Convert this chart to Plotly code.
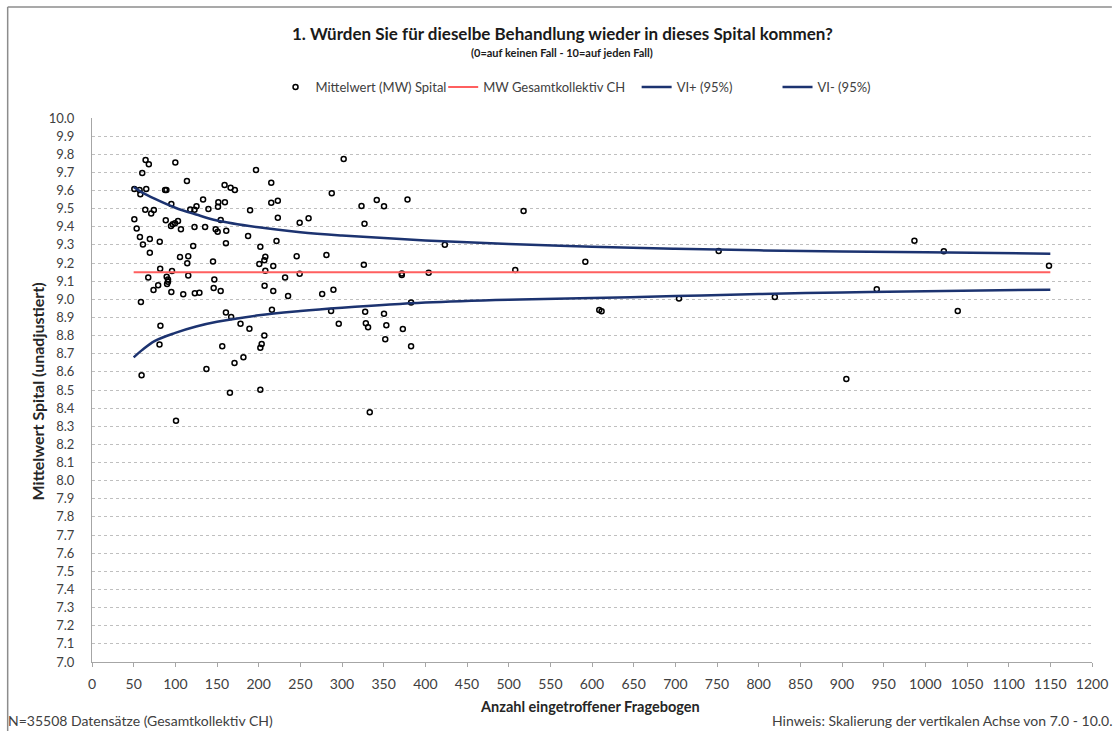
import plotly.graph_objects as go

# ---- data ----
spital_n = [64.3, 68.2, 60.3, 100, 196.8, 113.9, 50.8, 57.1, 65.1, 58, 87.7, 89.3, 159.1, 166.3, 171.4,
            95.2, 133.3, 151.6, 151.2, 159.5, 125.4, 117.9, 123, 139.7, 63.9, 74.2, 71, 189.7, 50.8, 88.5,
            103.2, 99.6, 94.8, 96.8, 154.4, 53.6, 106.7, 123, 135.7, 148.4, 150.8, 161.1, 187.3, 57.5, 69.4,
            81.3, 61.1, 121.4, 160.7, 202, 69.4, 105.6, 115.5, 114.3, 145.2, 208, 206.8, 200.8, 81.8, 96,
            208, 67.5, 89.6, 91.2, 90.1, 91.2, 115.5, 146.8, 79.4, 73.8, 95.2, 109.5, 123.4, 128.9, 146,
            154.4, 207.1, 58.7,
            160.7, 167, 178.2, 188.9, 82.1, 81, 156.3, 206.8, 203.6, 202, 171, 181.7, 59.5, 137.3, 165.5,
            202, 100.8,
            302, 215.1, 287.7, 215.1, 223, 341.7, 350.4, 323.4, 378.6, 223, 249.2, 259.9, 327, 221.4, 423.4,
            245.6, 281.3, 217.5, 326.2, 249.2, 371.8, 371.8, 404, 231.7, 217.5, 235.3, 276.2, 289.7, 382.9,
            215.9, 286.9, 327.8, 350.4, 296.1, 328.6, 331.3, 353.2, 373, 351.9, 382.9, 333.3,
            517.9, 507.9, 592, 608.7, 611.5, 752, 704.4, 819.4, 905.2, 986.9, 1022.2, 1148.4, 941.7, 1038.9]
spital_mw = [9.768, 9.745, 9.697, 9.754, 9.713, 9.652, 9.608, 9.603, 9.608, 9.58, 9.603, 9.603, 9.63, 9.616, 9.603,
             9.526, 9.551, 9.535, 9.511, 9.535, 9.513, 9.496, 9.494, 9.498, 9.494, 9.493, 9.474, 9.491, 9.441, 9.436,
             9.432, 9.419, 9.404, 9.414, 9.437, 9.39, 9.386, 9.399, 9.399, 9.386, 9.373, 9.378, 9.349, 9.344, 9.333,
             9.318, 9.303, 9.294, 9.309, 9.29, 9.257, 9.233, 9.237, 9.199, 9.208, 9.235, 9.215, 9.195, 9.169, 9.156,
             9.158, 9.121, 9.125, 9.11, 9.084, 9.097, 9.132, 9.11, 9.077, 9.051, 9.04, 9.028, 9.033, 9.036, 9.062,
             9.046, 9.075, 8.985,
             8.928, 8.902, 8.865, 8.838, 8.854, 8.751, 8.741, 8.8, 8.753, 8.733, 8.649, 8.68, 8.581, 8.616, 8.485,
             8.501, 8.33,
             9.774, 9.643, 9.585, 9.533, 9.544, 9.548, 9.513, 9.515, 9.551, 9.45, 9.423, 9.447, 9.417, 9.322, 9.301,
             9.237, 9.244, 9.184, 9.191, 9.141, 9.143, 9.134, 9.147, 9.12, 9.046, 9.018, 9.029, 9.053, 8.983,
             8.943, 8.935, 8.932, 8.921, 8.865, 8.868, 8.846, 8.857, 8.836, 8.78, 8.741, 8.377,
             9.487, 9.162, 9.207, 8.941, 8.934, 9.266, 9.005, 9.013, 8.56, 9.323, 9.265, 9.185, 9.055, 8.935]

mean_n = [50, 1150]
mean_mw = [9.15, 9.15]

vi_n = [50, 60, 75, 100, 125, 150, 200, 250, 300, 400, 500, 600, 700, 800, 900, 1000, 1150]
vi_plus = [9.62, 9.59, 9.555, 9.505, 9.468, 9.435, 9.397, 9.37, 9.352, 9.325, 9.305, 9.29, 9.279, 9.27,
           9.264, 9.259, 9.252]
vi_minus = [8.68, 8.72, 8.77, 8.815, 8.85, 8.876, 8.912, 8.935, 8.953, 8.982, 8.998, 9.007, 9.018, 9.029,
            9.038, 9.045, 9.053]

x_ticks = list(range(0, 1201, 50))

FONT = "Lato"
NARROW = "Liberation Sans Narrow, Arial Narrow, Lato"
W, H = 1120, 731
L, R, T, B = 92, 1100, 118, 662


def px(x):
    return (x - L) / (R - L)


def py(y):
    return (B - y) / (B - T)


fig = go.Figure()
fig.add_trace(go.Scatter(
    x=spital_n, y=spital_mw, mode="markers", name="Mittelwert (MW) Spital", legend="legend",
    marker=dict(symbol="circle-open", size=5, color="black", line=dict(width=1.5, color="black")),
))
fig.add_trace(go.Scatter(
    x=mean_n, y=mean_mw, mode="lines", name="MW Gesamtkollektiv CH", legend="legend2",
    line=dict(color="#ff5f5f", width=2),
))
fig.add_trace(go.Scatter(
    x=vi_n, y=vi_plus, mode="lines", name="VI+ (95%)", line_shape="spline", legend="legend3",
    line=dict(color="#1c3370", width=2.5),
))
fig.add_trace(go.Scatter(
    x=vi_n, y=vi_minus, mode="lines", name="VI- (95%)", line_shape="spline", legend="legend4",
    line=dict(color="#1c3370", width=2.5),
))


def leg(text_start):
    return dict(orientation="h", x=px(text_start - 42), xanchor="left", y=py(87), yanchor="middle",
                font=dict(size=13, color="#404040"), itemwidth=30, bgcolor="rgba(0,0,0,0)")


fig.update_layout(
    width=W, height=H,
    margin=dict(l=L, r=W - R, t=T, b=H - B),
    paper_bgcolor="white", plot_bgcolor="white",
    font=dict(family=FONT, size=12, color="#404040"),
    showlegend=True,
    legend=leg(319), legend2=leg(488), legend3=leg(683), legend4=leg(825),
)
fig.update_xaxes(
    range=[0, 1200], tickvals=x_ticks, ticktext=[str(v) for v in x_ticks],
    showgrid=False, showline=True, linecolor="#a6a6a6", linewidth=1,
    ticks="outside", ticklen=4, tickcolor="#a6a6a6", tickfont=dict(family=NARROW, size=14, color="#404040"),
    zeroline=False, ticklabelstandoff=5,
)
fig.update_yaxes(
    range=[7.0, 10.0], dtick=0.1, tick0=7.0, tickformat=".1f",
    showgrid=True, gridcolor="#bfbfbf", griddash="dot", gridwidth=1,
    showline=True, linecolor="#a6a6a6", linewidth=1, zeroline=False,
    ticks="", tickfont=dict(size=13, color="#404040"), ticklabelstandoff=14,
)

ann = [
    dict(text="<b>1. Würden Sie für dieselbe Behandlung wieder in dieses Spital kommen?</b>",
         x=px(566), y=py(33), font=dict(size=17, color="#1a1a1a")),
    dict(text="<b>(0=auf keinen Fall - 10=auf jeden Fall)</b>",
         x=px(566), y=py(52), font=dict(size=11, color="#1a1a1a")),
    dict(text="<b>Anzahl eingetroffener Fragebogen</b>",
         x=px(594), y=py(706), font=dict(size=14.5, color="#262626")),
    dict(text="<b>Mittelwert Spital (unadjustiert)</b>", textangle=-90,
         x=px(37), y=py(391), font=dict(size=16, color="#262626")),
]
for a in ann:
    a.update(xref="paper", yref="paper", showarrow=False, xanchor="center", yanchor="middle")
    fig.add_annotation(**a)
fig.add_annotation(text="N=35508 Datensätze (Gesamtkollektiv CH)", xref="paper", yref="paper",
                   x=px(5), y=py(720), xanchor="left", yanchor="middle", showarrow=False,
                   font=dict(size=14, color="#404040"))
fig.add_annotation(text="Hinweis: Skalierung der vertikalen Achse von 7.0 - 10.0.", xref="paper", yref="paper",
                   x=px(1123), y=py(720), xanchor="right", yanchor="middle", showarrow=False,
                   font=dict(size=14, color="#404040"))

# outer chart frame (left and top edges visible in the reference)
fig.add_shape(type="line", xref="paper", yref="paper", x0=px(7), x1=px(7), y0=py(7), y1=py(731),
              line=dict(color="#8c8c8c", width=1.5))
fig.add_shape(type="line", xref="paper", yref="paper", x0=px(7), x1=px(1120), y0=py(7), y1=py(7),
              line=dict(color="#8c8c8c", width=1.5))

fig.write_html("out.html", config={"displayModeBar": False},
               post_script="document.body.style.margin='0';document.body.style.overflow='hidden';")
